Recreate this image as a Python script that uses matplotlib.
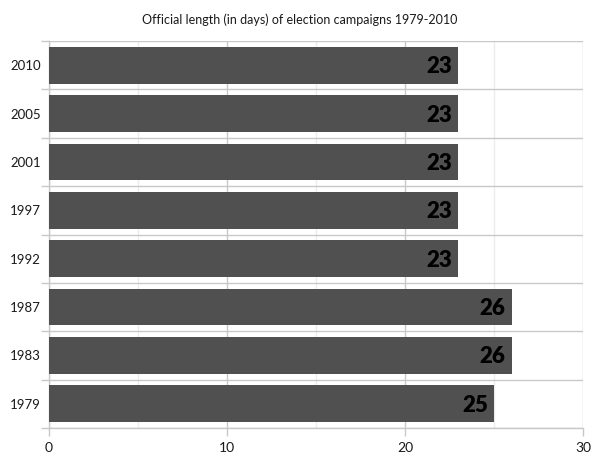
import matplotlib.pyplot as plt
from matplotlib.ticker import MultipleLocator

years = ["1979", "1983", "1987", "1992", "1997", "2001", "2005", "2010"]
days = [25, 26, 26, 23, 23, 23, 23, 23]
title = "Official length (in days) of election campaigns 1979-2010"

plt.rcParams["font.family"] = ["Lato", "DejaVu Sans"]

fig = plt.figure(figsize=(6, 4.63), dpi=100)
ax = fig.add_axes([49 / 600, 1 - 428 / 463, 534 / 600, 387 / 463])

ys = range(len(years))
ax.barh(list(ys), days, height=0.76, color="#505050", zorder=3)
for y, v in zip(ys, days):
    ax.text(v - 0.35, y - 0.03, str(v), ha="right", va="center",
            fontsize=16, fontweight="heavy", color="black", zorder=4)

ax.set_xlim(0, 30)
ax.set_ylim(-0.5, len(years) - 0.5)

# band borders as major ticks, labels in the middle as minor ticks
ax.set_yticks([i - 0.5 for i in range(len(years) + 1)])
ax.set_yticklabels([])
ax.set_yticks(list(ys), minor=True)
ax.set_yticklabels(years, minor=True, fontsize=9.5, color="#1a1a1a")
ax.tick_params(axis="y", which="major", length=6, color="#c8c8c8", width=1)
ax.tick_params(axis="y", which="minor", length=0, pad=6)

ax.xaxis.set_major_locator(MultipleLocator(10))
ax.xaxis.set_minor_locator(MultipleLocator(5))
ax.tick_params(axis="x", which="major", length=6, color="#c8c8c8", width=1,
               labelsize=10, labelcolor="#1a1a1a", pad=4)
ax.tick_params(axis="x", which="minor", length=0)

ax.grid(axis="x", which="major", color="#c8c8c8", linewidth=1, zorder=0)
ax.grid(axis="x", which="minor", color="#ececec", linewidth=1, zorder=0)
ax.grid(axis="y", which="major", color="#c8c8c8", linewidth=1, zorder=0)

for side in ["top", "right"]:
    ax.spines[side].set_visible(False)
for side in ["left", "bottom"]:
    ax.spines[side].set_color("#c8c8c8")
    ax.spines[side].set_linewidth(1)

fig.text(0.5, 1 - 20 / 463, title, ha="center", va="center",
         fontsize=9, color="#1a1a1a")

fig.savefig("out.png", dpi=100)
